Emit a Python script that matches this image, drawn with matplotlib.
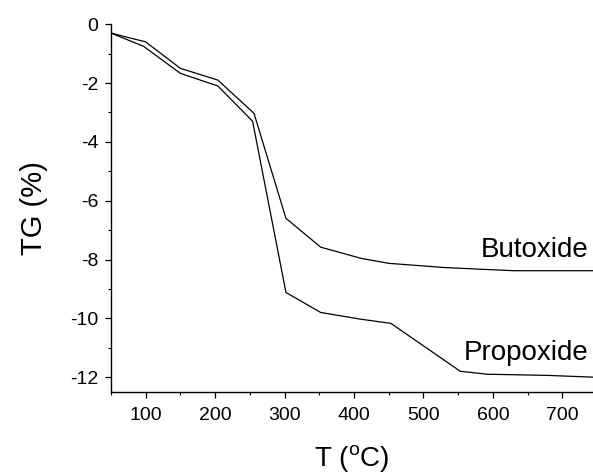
import matplotlib
matplotlib.use("Agg")
import matplotlib.pyplot as plt
from matplotlib.ticker import MultipleLocator

plt.rcParams['font.family'] = ['Liberation Sans', 'DejaVu Sans']
plt.rcParams['mathtext.fontset'] = 'custom'
plt.rcParams['mathtext.rm'] = 'Liberation Sans'
plt.rcParams['axes.unicode_minus'] = False

# TG curves
temp_but = [50, 100, 150, 204, 256, 302, 352, 410, 450, 529, 582, 630, 745]
tg_but = [-0.3, -0.6, -1.5, -1.9, -3.03, -6.6, -7.58, -7.96, -8.13, -8.27, -8.33, -8.38, -8.38]

temp_prop = [50, 97, 150, 204, 254, 302, 352, 410, 453, 553, 592, 679, 745]
tg_prop = [-0.3, -0.75, -1.67, -2.1, -3.3, -9.12, -9.8, -10.03, -10.17, -11.8, -11.9, -11.94, -12.0]

fig = plt.figure(figsize=(5.93, 4.75), dpi=100)
ax = fig.add_axes([0.187, 0.175, 0.813, 0.774])

ax.plot(temp_but, tg_but, color='black', lw=0.9)
ax.plot(temp_prop, tg_prop, color='black', lw=0.9)

ax.set_xlim(50, 744)
ax.set_ylim(-12.5, 0)
ax.xaxis.set_major_locator(MultipleLocator(100))
ax.xaxis.set_minor_locator(MultipleLocator(50))
ax.yaxis.set_major_locator(MultipleLocator(2))
ax.yaxis.set_minor_locator(MultipleLocator(1))
ax.set_xticks([100, 200, 300, 400, 500, 600, 700])

for s in ['top', 'right']:
    ax.spines[s].set_visible(False)
for s in ['left', 'bottom']:
    ax.spines[s].set_linewidth(1.0)

ax.tick_params(which='major', direction='out', length=4, width=0.9, labelsize=14, colors='black')
ax.tick_params(axis='x', which='major', pad=7)
ax.tick_params(axis='y', which='major', pad=5)
ax.tick_params(which='minor', direction='out', length=2, width=0.8)

ax.text(738, -7.9, 'Butoxide', ha='right', va='baseline', fontsize=20)
ax.text(738, -11.43, 'Propoxide', ha='right', va='baseline', fontsize=20)

ax.set_ylabel('TG (%)', fontsize=21, labelpad=16)
ax.set_xlabel(r'T ($^\mathrm{o}$C)', fontsize=20, labelpad=14)

fig.savefig('out.png', dpi=100)
